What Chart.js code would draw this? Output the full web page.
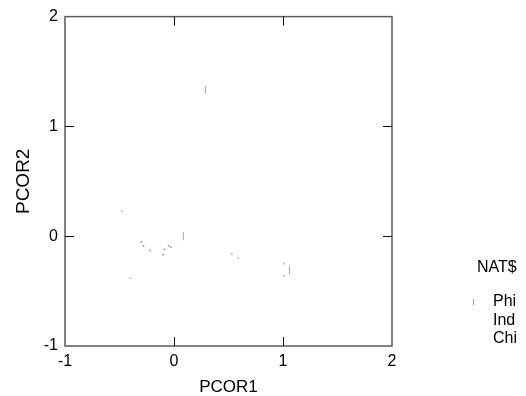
<!DOCTYPE html>
<html>
<head>
<meta charset="utf-8">
<script src="https://cdn.jsdelivr.net/npm/chart.js@4/dist/chart.umd.min.js"></script>
<style>
  html, body { margin: 0; padding: 0; background: #fff; }
  #wrap { width: 526px; height: 396px; }
</style>
</head>
<body>
<div id="wrap"><canvas id="plot" width="526" height="396"></canvas></div>
<script>
// data (PCOR1, PCOR2)
const series = ["Phi", "Ind", "Chi"];
const phiX = [0.085, 0.29, 1.06];
const phiY = [0.0, 1.33, -0.31];
const indX = [-0.30, -0.28, -0.22, -0.10, -0.09, -0.05, -0.03];
const indY = [-0.05, -0.09, -0.13, -0.17, -0.12, -0.09, -0.10];
const chiX = [-0.48, -0.40, 0.53, 0.59, 1.01, 1.01];
const chiY = [0.23, -0.38, -0.16, -0.20, -0.25, -0.36];
const axisTicks = [-1, 0, 1, 2];

const FONT = "'Liberation Sans', Arial, sans-serif";

function toPoints(xs, ys) {
  return xs.map((x, i) => ({ x: x, y: ys[i] }));
}

// frame, inward ticks and the legend block
const framePlugin = {
  id: "frame",
  afterDraw(chart) {
    const ctx = chart.ctx;
    const a = chart.chartArea;
    const xs = chart.scales.x, ys = chart.scales.y;
    ctx.save();
    ctx.strokeStyle = "#5a5a5a";
    ctx.lineWidth = 1.5;
    ctx.strokeRect(a.left, a.top, a.right - a.left, a.bottom - a.top);

    ctx.strokeStyle = "#111";
    ctx.lineWidth = 1;
    const len = 9;
    [0, 1].forEach(v => {
      const px = Math.round(xs.getPixelForValue(v)) + 0.5;
      ctx.beginPath();
      ctx.moveTo(px, a.top); ctx.lineTo(px, a.top + len);
      ctx.moveTo(px, a.bottom); ctx.lineTo(px, a.bottom - len);
      ctx.stroke();
      const py = Math.round(ys.getPixelForValue(v)) + 0.5;
      ctx.beginPath();
      ctx.moveTo(a.left, py); ctx.lineTo(a.left + len, py);
      ctx.moveTo(a.right, py); ctx.lineTo(a.right - len, py);
      ctx.stroke();
    });

    // legend
    ctx.fillStyle = "#000";
    ctx.font = "16px " + FONT;
    ctx.textBaseline = "middle";
    ctx.textAlign = "left";
    ctx.fillText("NAT$", 477, 268);
    const rows = [302, 321, 339];
    chart.data.datasets.forEach((ds, i) => {
      ctx.fillStyle = "#000";
      ctx.fillText(ds.label, 493, rows[i]);
      if (i === 0) {
        ctx.strokeStyle = "#999";
        ctx.beginPath();
        ctx.moveTo(473.5, rows[i] - 3);
        ctx.lineTo(473.5, rows[i] + 3);
        ctx.stroke();
      }
    });
    ctx.restore();
  }
};

new Chart(document.getElementById("plot"), {
  type: "scatter",
  data: {
    datasets: [
      {
        label: series[0],
        data: toPoints(phiX, phiY),
        pointStyle: "line",
        rotation: 90,
        radius: 4,
        borderWidth: 1,
        borderColor: "#a5a5a5",
        backgroundColor: "#a5a5a5"
      },
      {
        label: series[1],
        data: toPoints(indX, indY),
        pointStyle: "circle",
        radius: 1,
        borderWidth: 0,
        backgroundColor: "#a0a0a0"
      },
      {
        label: series[2],
        data: toPoints(chiX, chiY),
        pointStyle: "rect",
        radius: 1.3,
        borderWidth: 0,
        backgroundColor: "#bdbdbd"
      }
    ]
  },
  options: {
    responsive: false,
    animation: false,
    events: [],
    layout: { padding: { top: 16, right: 134, left: 0, bottom: 0 } },
    plugins: { legend: { display: false }, tooltip: { enabled: false } },
    scales: {
      x: {
        type: "linear",
        min: -1, max: 2,
        afterBuildTicks: s => { s.ticks = axisTicks.map(v => ({ value: v })); },
        afterFit: s => { s.height = 50; },
        grid: { display: false, drawTicks: false },
        border: { display: false },
        ticks: { color: "#000", font: { family: FONT, size: 16 }, padding: 6, maxRotation: 0 },
        title: {
          display: true, text: "PCOR1", color: "#000",
          font: { family: FONT, size: 17, lineHeight: 1 },
          padding: { top: 0, bottom: 0 }
        }
      },
      y: {
        type: "linear",
        min: -1, max: 2,
        afterBuildTicks: s => { s.ticks = axisTicks.map(v => ({ value: v })); },
        afterFit: s => { s.width = 65; },
        grid: { display: false, drawTicks: false },
        border: { display: false },
        ticks: { color: "#000", font: { family: FONT, size: 16 }, padding: 7 },
        title: {
          display: true, text: "PCOR2", color: "#000",
          font: { family: FONT, size: 19 },
          padding: { top: 12, bottom: 0 }
        }
      }
    }
  },
  plugins: [framePlugin]
});
</script>
</body>
</html>
